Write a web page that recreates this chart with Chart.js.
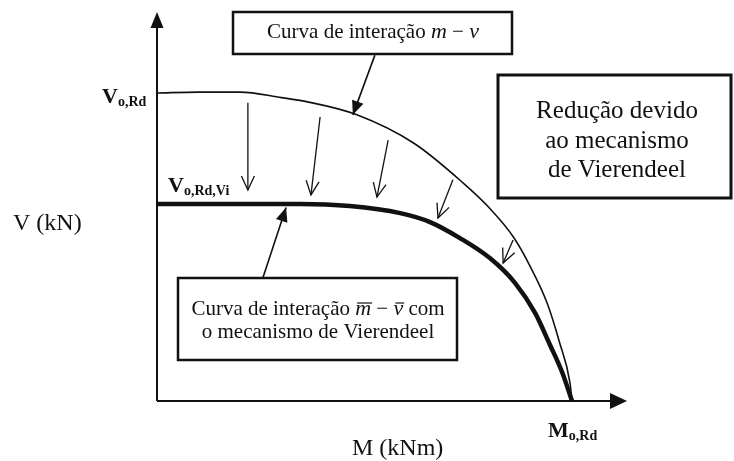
<!DOCTYPE html>
<html lang="pt">
<head>
<meta charset="utf-8">
<title>Curva de interação m-v</title>
<script src="https://cdn.jsdelivr.net/npm/chart.js@4/dist/chart.umd.min.js"></script>
<style>
  html, body { margin: 0; padding: 0; background: #fff; }
  #wrap { width: 734px; height: 461px; position: relative; }
</style>
</head>
<body>
<div id="wrap"><canvas id="interacao"></canvas></div>
<script>
// momento e cortante normalizados por M_o,Rd e V_o,Rd
const outerM = [0, 0.1, 0.2, 0.3, 0.36, 0.48, 0.62, 0.74, 0.8, 0.86, 0.9, 0.94, 0.97, 0.995, 1];
const outerV = [1.0, 1.003, 1.003, 0.985, 0.972, 0.93, 0.836, 0.705, 0.628, 0.53, 0.435, 0.318, 0.19, 0.06, 0];

const innerM = [0, 0.345, 0.465, 0.586, 0.658, 0.73, 0.802, 0.863, 0.911, 0.947, 0.976, 1];
const innerV = [0.64, 0.64, 0.633, 0.61, 0.581, 0.529, 0.464, 0.383, 0.286, 0.182, 0.094, 0];

const vRd = 1.0;
const vRdVi = 0.64;
const mRd = 1.0;

// setas de redução: [M, V] início -> fim
const reductionFrom = [[0.219, 0.968], [0.393, 0.922], [0.557, 0.847], [0.713, 0.718], [0.858, 0.523]];
const reductionTo = [[0.219, 0.685], [0.371, 0.669], [0.530, 0.662], [0.677, 0.594], [0.834, 0.448]];

// chamadas das caixas: [M, V] cauda -> ponta
const calloutFrom = [[0.525, 1.123], [0.255, 0.399]];
const calloutTo = [[0.472, 0.929], [0.311, 0.628]];

const SERIF = '"Liberation Serif", "DejaVu Serif", serif';

const toPoints = (xs, ys) => xs.map((x, i) => ({ x, y: ys[i] }));

const filledHead = (ctx, x0, y0, x1, y1, len, half) => {
  const a = Math.atan2(y1 - y0, x1 - x0);
  ctx.beginPath();
  ctx.moveTo(x1, y1);
  ctx.lineTo(x1 - len * Math.cos(a) + half * Math.sin(a), y1 - len * Math.sin(a) - half * Math.cos(a));
  ctx.lineTo(x1 - len * Math.cos(a) - half * Math.sin(a), y1 - len * Math.sin(a) + half * Math.cos(a));
  ctx.closePath();
  ctx.fill();
};

const openHead = (ctx, x0, y0, x1, y1, len, half) => {
  const a = Math.atan2(y1 - y0, x1 - x0);
  ctx.beginPath();
  ctx.moveTo(x1 - len * Math.cos(a) + half * Math.sin(a), y1 - len * Math.sin(a) - half * Math.cos(a));
  ctx.lineTo(x1, y1);
  ctx.lineTo(x1 - len * Math.cos(a) - half * Math.sin(a), y1 - len * Math.sin(a) + half * Math.cos(a));
  ctx.stroke();
};

// texto em trechos (fonte própria, barra opcional)
const drawRuns = (ctx, runs, cx, y) => {
  const widths = runs.map((r) => {
    ctx.font = r.font;
    return ctx.measureText(r.text).width;
  });
  let x = cx - widths.reduce((s, w) => s + w, 0) / 2;
  runs.forEach((r, i) => {
    ctx.font = r.font;
    ctx.fillText(r.text, x, y + (r.dy || 0));
    if (r.bar) {
      ctx.beginPath();
      ctx.lineWidth = 1.2;
      ctx.moveTo(x + 2, y - 12);
      ctx.lineTo(x + widths[i] + 1, y - 12);
      ctx.stroke();
    }
    x += widths[i];
  });
};

const leftRuns = (ctx, runs, x, y) => {
  runs.forEach((r) => {
    ctx.font = r.font;
    ctx.fillText(r.text, x, y + (r.dy || 0));
    x += ctx.measureText(r.text).width;
  });
};

const box = (ctx, x0, y0, x1, y1, lw) => {
  ctx.lineWidth = lw;
  ctx.strokeRect(x0, y0, x1 - x0, y1 - y0);
};

const diagram = {
  id: "diagram",
  beforeDatasetsDraw(chart) {
    const { ctx, chartArea, scales } = chart;
    const x0 = scales.x.getPixelForValue(0);
    const y0 = scales.y.getPixelForValue(0);
    ctx.save();
    ctx.strokeStyle = "#111";
    ctx.fillStyle = "#111";
    ctx.lineWidth = 2;
    ctx.beginPath();
    ctx.moveTo(x0, y0);
    ctx.lineTo(x0, chartArea.top + 10);
    ctx.moveTo(x0, y0);
    ctx.lineTo(chartArea.right - 10, y0);
    ctx.stroke();
    filledHead(ctx, x0, y0, x0, chartArea.top, 16, 6.5);
    filledHead(ctx, x0, y0, chartArea.right, y0, 17, 8);
    ctx.restore();
  },
  afterDatasetsDraw(chart) {
    const { ctx, scales } = chart;
    const px = (v) => scales.x.getPixelForValue(v);
    const py = (v) => scales.y.getPixelForValue(v);
    ctx.save();
    ctx.strokeStyle = "#111";
    ctx.fillStyle = "#111";

    // setas da redução
    ctx.lineWidth = 1.3;
    reductionFrom.forEach(([m0, v0], i) => {
      const [m1, v1] = reductionTo[i];
      const a = [px(m0), py(v0)];
      const b = [px(m1), py(v1)];
      ctx.beginPath();
      ctx.moveTo(a[0], a[1]);
      ctx.lineTo(b[0], b[1]);
      ctx.stroke();
      openHead(ctx, a[0], a[1], b[0], b[1], 14, 6.5);
    });

    // chamadas
    ctx.lineWidth = 1.6;
    calloutFrom.forEach(([m0, v0], i) => {
      const [m1, v1] = calloutTo[i];
      const a = [px(m0), py(v0)];
      const b = [px(m1), py(v1)];
      ctx.beginPath();
      ctx.moveTo(a[0], a[1]);
      ctx.lineTo(b[0], b[1]);
      ctx.stroke();
      filledHead(ctx, a[0], a[1], b[0], b[1], 14, 6);
    });

    // caixas
    ctx.fillStyle = "#fff";
    ctx.fillRect(233, 12, 279, 42);
    ctx.fillRect(178, 278, 279, 82);
    ctx.fillStyle = "#111";
    box(ctx, 233, 12, 512, 54, 2.5);
    box(ctx, 178, 278, 457, 360, 2.5);
    box(ctx, 498, 75, 731, 198, 3);

    ctx.textAlign = "left";
    ctx.textBaseline = "alphabetic";
    const reg = `21px ${SERIF}`;
    const ita = `italic 22px ${SERIF}`;

    drawRuns(ctx, [
      { text: "Curva de interação ", font: reg },
      { text: "m", font: ita },
      { text: " − ", font: reg },
      { text: "v", font: ita },
    ], 373, 38);

    drawRuns(ctx, [
      { text: "Curva de interação ", font: reg },
      { text: "m", font: ita, bar: true },
      { text: " − ", font: reg },
      { text: "v", font: ita, bar: true },
      { text: " com", font: reg },
    ], 318, 315);
    drawRuns(ctx, [{ text: "o mecanismo de Vierendeel", font: reg }], 318, 338);

    const big = `25px ${SERIF}`;
    drawRuns(ctx, [{ text: "Redução devido", font: big }], 617, 118);
    drawRuns(ctx, [{ text: "ao mecanismo", font: big }], 617, 148);
    drawRuns(ctx, [{ text: "de Vierendeel", font: big }], 617, 177);

    // rótulos dos eixos
    const axisFont = `24px ${SERIF}`;
    leftRuns(ctx, [{ text: "V (kN)", font: axisFont }], 13, 230);
    leftRuns(ctx, [{ text: "M (kNm)", font: axisFont }], 352, 455);

    const vb = `bold 22px ${SERIF}`;
    const sb = `bold 14px ${SERIF}`;
    leftRuns(ctx, [
      { text: "V", font: vb },
      { text: "o,Rd", font: sb, dy: 3 },
    ], px(0) - 55, py(vRd) + 10);
    leftRuns(ctx, [
      { text: "V", font: vb },
      { text: "o,Rd,Vi", font: sb, dy: 3 },
    ], px(0) + 11, py(vRdVi) - 12);
    leftRuns(ctx, [
      { text: "M", font: vb },
      { text: "o,Rd", font: sb, dy: 3 },
    ], px(mRd) - 24, py(0) + 36);

    ctx.restore();
  },
};

new Chart(document.querySelector("#interacao"), {
  type: "scatter",
  data: {
    datasets: [
      {
        label: "m - v",
        data: toPoints(outerM, outerV),
        showLine: true,
        borderColor: "#111",
        borderWidth: 1.6,
        pointRadius: 0,
        cubicInterpolationMode: "monotone",
        clip: false,
      },
      {
        label: "m̄ - v̄ (Vierendeel)",
        data: toPoints(innerM, innerV),
        showLine: true,
        borderColor: "#111",
        borderWidth: 4.5,
        pointRadius: 0,
        cubicInterpolationMode: "monotone",
        clip: false,
      },
    ],
  },
  options: {
    responsive: true,
    maintainAspectRatio: false,
    animation: false,
    layout: { padding: { left: 157, right: 107, top: 12, bottom: 60 } },
    scales: {
      x: { type: "linear", min: 0, max: 1.1325, display: false },
      y: { type: "linear", min: 0, max: 1.263, display: false },
    },
    plugins: { legend: { display: false }, tooltip: { enabled: false } },
  },
  plugins: [diagram],
});
</script>
</body>
</html>
